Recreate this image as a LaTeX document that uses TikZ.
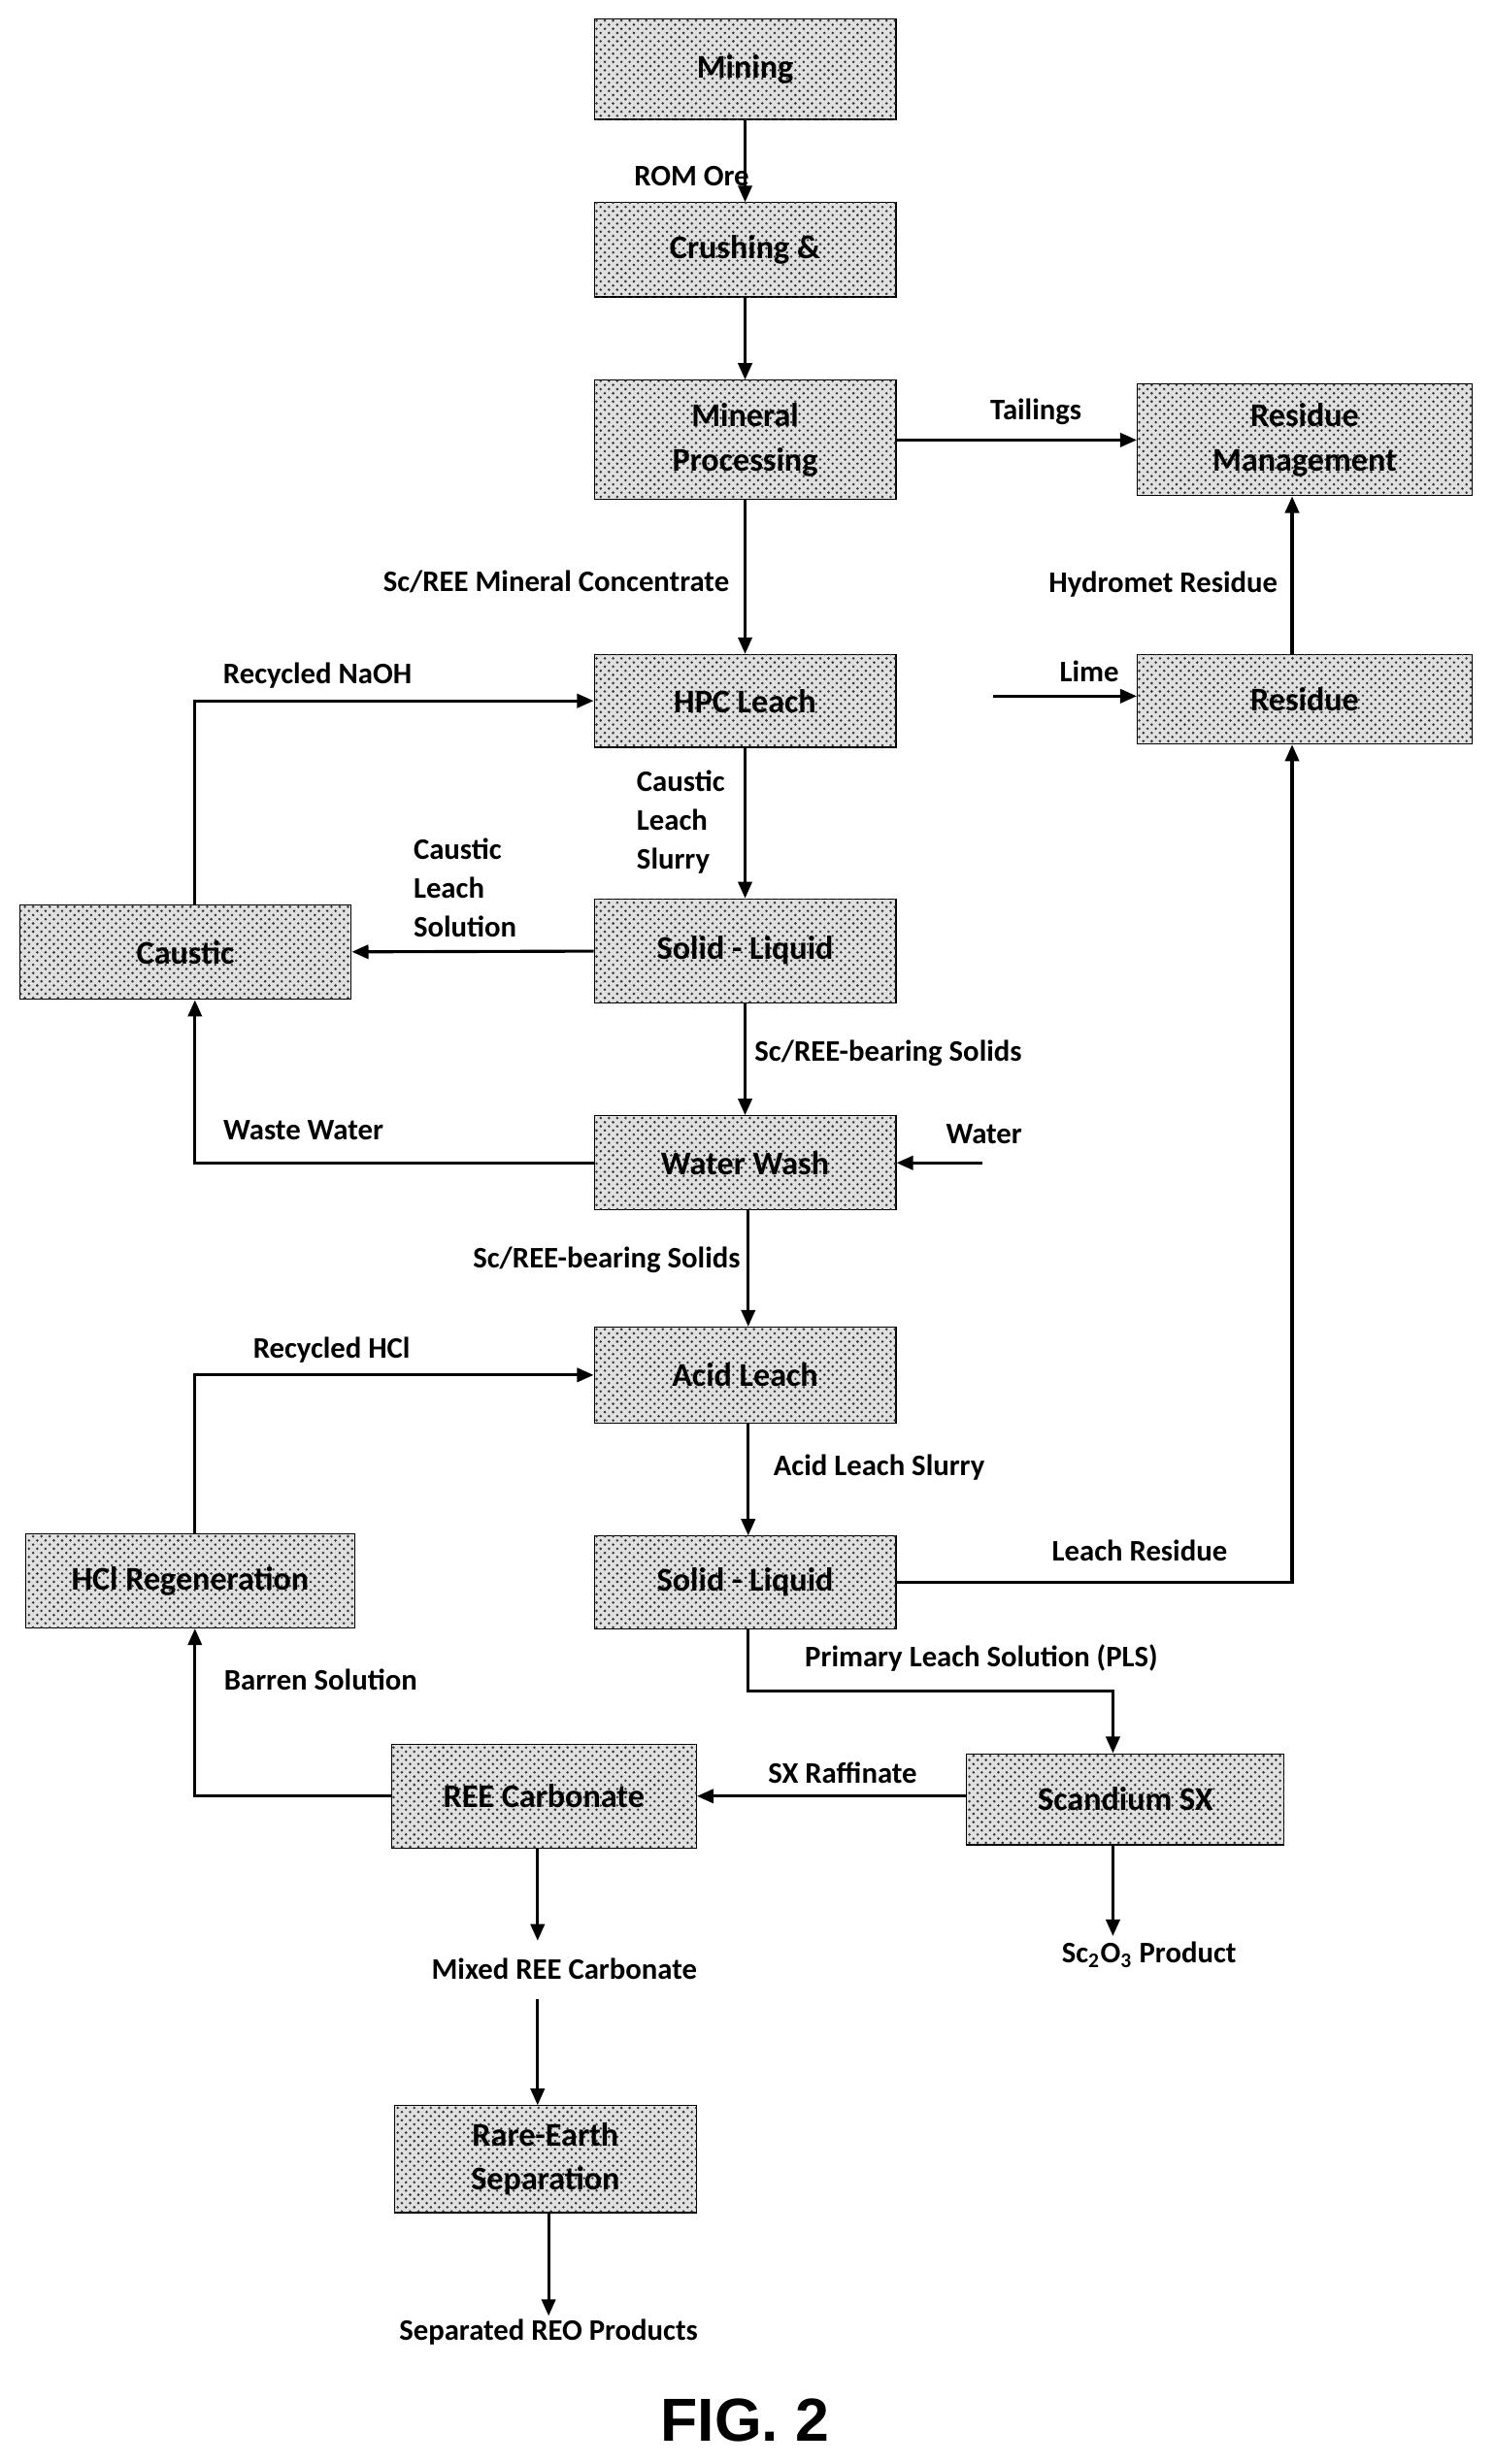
\documentclass[tikz,border=0pt]{standalone}
\usepackage{fontspec}
\setmainfont{Carlito}
\newfontfamily\figfont{Liberation Sans}
\usetikzlibrary{patterns,arrows.meta}

\tikzset{
  box/.style={draw=black, thin, fill=black!12, postaction={pattern=crosshatch dots, pattern color=black!80},
    minimum width=3.84cm, minimum height=1.24cm, align=center, font=\bfseries\fontsize{12}{16}\selectfont},
  lbl/.style={font=\bfseries\fontsize{10.8}{14}\selectfont, inner sep=1pt},
  flow/.style={-{Triangle[length=6pt,width=5pt]}, line width=1.1pt}
}

\begin{document}
\begin{tikzpicture}[x=0.02cm, y=-0.02cm]
  \useasboundingbox (0,0) rectangle (950,1568);
  % process boxes
  \node[box, minimum height=1.28cm] (mining) at (474,44) {Mining};
  \node[box, minimum height=1.2cm] (crush) at (474,159) {Crushing \&};
  \node[box, minimum height=1.52cm] (minproc) at (474,280) {Mineral\\Processing};
  \node[box, minimum width=4.26cm, minimum height=1.42cm] (resmgmt) at (830,280) {Residue\\Management};
  \node[box, minimum height=1.18cm] (hpc) at (474,446) {HPC Leach};
  \node[box, minimum width=4.26cm, minimum height=1.14cm] (residue) at (830,445) {Residue};
  \node[box, minimum width=4.22cm, minimum height=1.2cm] (caustic) at (118,606) {Caustic};
  \node[box, minimum height=1.32cm] (sl1) at (474,605) {Solid - Liquid};
  \node[box, minimum height=1.2cm] (wash) at (474,740) {Water Wash};
  \node[box, minimum height=1.22cm] (acid) at (474,875) {Acid Leach};
  \node[box, minimum width=4.18cm, minimum height=1.2cm] (hclreg) at (121,1006) {HCl Regeneration};
  \node[box, minimum height=1.18cm] (sl2) at (474,1007) {Solid - Liquid};
  \node[box, minimum width=3.88cm, minimum height=1.32cm] (reecarb) at (346,1143) {REE Carbonate};
  \node[box, minimum width=4.04cm, minimum height=1.16cm] (scsx) at (716,1145) {Scandium SX};
  \node[box, minimum height=1.36cm] (resep) at (347,1374) {Rare-Earth\\Separation};

  % stream end texts
  \node[lbl] (mixed) at (359,1253) {Mixed REE Carbonate};
  \node[lbl] (reo) at (349,1484) {Separated REO Products};
  \node[lbl] (sc2o3) at (731,1244) {Sc\textsubscript{2}O\textsubscript{3} Product};
  \coordinate (lime) at (632,443);
  \coordinate (water) at (625,740);
  \coordinate (mixedin) at (342,1235);
  \coordinate (mixedout) at (342,1272);
  \coordinate (scout) at (708,1232);
  \coordinate (xl) at (124,0);
  \coordinate (xm) at (476,0);
  \coordinate (xc) at (342,0);
  \coordinate (xs) at (708,0);
  \coordinate (xr) at (822,0);

  % main line
  \draw[flow] (mining) -- (crush);
  \draw[flow] (crush) -- (minproc);
  \draw[flow] (minproc) -- (resmgmt);
  \draw[flow] (minproc) -- (hpc);
  \draw[flow] (hpc) -- (sl1);
  \draw[flow] (sl1) -- (caustic);
  \draw[flow] (sl1) -- (wash);
  \draw[flow] (water) -- (wash.east |- water);
  \draw[flow] (wash.south -| xm) -- (acid.north -| xm);
  \draw[flow] (acid.south -| xm) -- (sl2.north -| xm);
  \draw[flow] (scsx.west |- reecarb) -- (reecarb);
  \draw[flow] (reecarb.south -| xc) -- (mixedin);
  \draw[flow] (mixedout) -- (resep.north -| xc);
  \draw[flow] (resep.south -| reo) -- (reo);
  \draw[flow] (scsx.south -| xs) -- (scout);
  \draw[flow] (lime) -- (residue.west |- lime);
  \draw[flow] (residue.north -| xr) -- (resmgmt.south -| xr);

  % recycle and residue lines
  \draw[flow] (caustic.north -| xl) |- (hpc.west);
  \draw[flow] (wash.west) -| (caustic.south -| xl);
  \draw[flow] (hclreg.north -| xl) |- (acid.west);
  \draw[flow] (reecarb.west) -| (hclreg.south -| xl);
  \draw[flow] (sl2.east) -| (residue.south -| xr);
  \draw[flow] (sl2.south -| xm) -- (476,1076) -| (scsx.north -| xs);

  % stream labels
  \node[lbl] at (440,112) {ROM Ore};
  \node[lbl] at (659,262) {Tailings};
  \node[lbl, anchor=east] at (466,370) {Sc/REE Mineral Concentrate};
  \node[lbl] at (740,372) {Hydromet Residue};
  \node[lbl] at (693,427) {Lime};
  \node[lbl] at (202,430) {Recycled NaOH};
  \node[lbl, align=left, anchor=west] at (403,523) {Caustic\\Leach\\Slurry};
  \node[lbl, align=left, anchor=west] at (261,565) {Caustic\\Leach\\Solution};
  \node[lbl, anchor=west] at (478,670) {Sc/REE-bearing Solids};
  \node[lbl] at (193,719) {Waste Water};
  \node[lbl] at (626,722) {Water};
  \node[lbl, anchor=east] at (473,802) {Sc/REE-bearing Solids};
  \node[lbl] at (211,859) {Recycled HCl};
  \node[lbl, anchor=west] at (490,934) {Acid Leach Slurry};
  \node[lbl] at (725,987) {Leach Residue};
  \node[lbl, anchor=west] at (510,1055) {Primary Leach Solution (PLS)};
  \node[lbl] at (536,1128) {SX Raffinate};
  \node[lbl] at (204,1069) {Barren Solution};

  \node[font=\figfont\bfseries\fontsize{22}{26}\selectfont] (fig) at (474,1540) {FIG. 2};
\end{tikzpicture}
\end{document}
